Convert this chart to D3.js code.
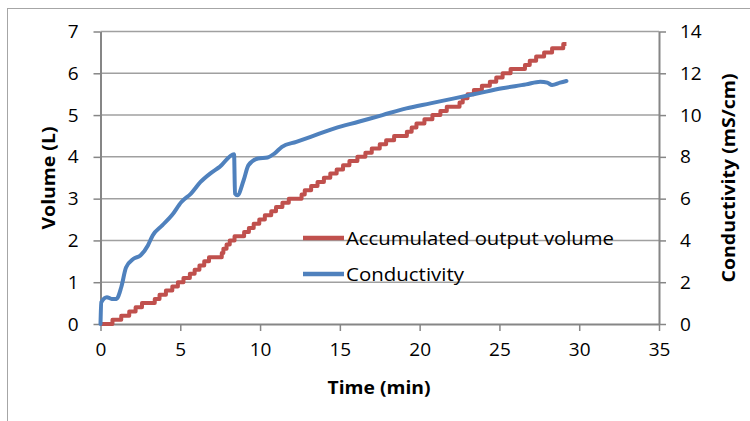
<!DOCTYPE html>
<html>
<head>
<meta charset="utf-8">
<script src="https://cdn.jsdelivr.net/npm/d3@7"></script>
<style>
  html, body { margin: 0; padding: 0; background: #fff; }
  svg { display: block; }
  text { font-family: "Open Sans", "Noto Sans", sans-serif; fill: #000; }
</style>
</head>
<body>
<svg id="chart" width="750" height="421"></svg>
<script>
// Accumulated output volume: time (min) at which each 0.1 L step is reached
const volumeTimes = [0, 0.75, 1.3, 1.8, 2.2, 2.6, 3.4, 3.7, 4.1, 4.5, 4.85,
  5.2, 5.6, 5.9, 6.2, 6.5, 6.8, 7.6, 7.7, 7.9, 8.1,
  8.4, 9.0, 9.3, 9.6, 9.95, 10.3, 10.7, 11.0, 11.4, 11.8,
  12.6, 12.8, 13.2, 13.6, 14.0, 14.4, 14.8, 15.2, 15.6, 16.1,
  16.6, 17.0, 17.5, 17.9, 18.4, 19.2, 19.5, 19.8, 20.3, 20.8,
  21.3, 21.7, 22.5, 22.7, 23.0, 23.4, 23.9, 24.4, 24.8, 25.2,
  25.7, 26.6, 26.9, 27.3, 27.8, 28.3, 29.0, 29.2];
const volumeValues = [0, 0.1, 0.2, 0.3, 0.4, 0.5, 0.6, 0.7, 0.8, 0.9, 1.0,
  1.1, 1.2, 1.3, 1.4, 1.5, 1.6, 1.7, 1.8, 1.9, 2.0,
  2.1, 2.2, 2.3, 2.4, 2.5, 2.6, 2.7, 2.8, 2.9, 3.0,
  3.1, 3.2, 3.3, 3.4, 3.5, 3.6, 3.7, 3.8, 3.9, 4.0,
  4.1, 4.2, 4.3, 4.4, 4.5, 4.6, 4.7, 4.8, 4.9, 5.0,
  5.1, 5.2, 5.3, 5.4, 5.5, 5.6, 5.7, 5.8, 5.9, 6.0,
  6.1, 6.2, 6.3, 6.4, 6.5, 6.6, 6.7, 6.7];

// Conductivity (mS/cm) over time (min)
const condTimes = [0, 0.05, 0.4, 0.7, 1.0, 1.3, 1.6, 2.07, 2.5, 2.97, 3.27,
  3.87, 4.47, 5.07, 5.67, 6.27, 6.87, 7.47, 8.37, 8.43, 8.58,
  8.97, 9.27, 9.87, 10.47, 10.9, 11.37, 12.27, 13.17, 14.67, 16.17,
  17.67, 19.17, 20.67, 22.17, 23.67, 25.17, 26.67, 27.56, 28.0, 28.3,
  28.8, 29.2];
const condValues = [0, 1.04, 1.28, 1.2, 1.2, 1.76, 2.7, 3.12, 3.28, 3.76, 4.24,
  4.72, 5.2, 5.84, 6.24, 6.8, 7.2, 7.52, 8.13, 6.24, 6.16,
  6.88, 7.6, 7.92, 7.97, 8.16, 8.48, 8.72, 8.96, 9.36, 9.68,
  10.0, 10.32, 10.56, 10.8, 11.04, 11.28, 11.47, 11.6, 11.55, 11.44,
  11.55, 11.63];

const timeTicks = [0, 5, 10, 15, 20, 25, 30, 35];
const volumeTicks = [0, 1, 2, 3, 4, 5, 6, 7];
const condTicks = [0, 2, 4, 6, 8, 10, 12, 14];

const seriesNames = ["Accumulated output volume", "Conductivity"];
const seriesColors = ["#C0504D", "#4F81BD"];

const svg = d3.select("#chart");
const x = d3.scaleLinear().domain([0, 35]).range([100.5, 659]);
const yL = d3.scaleLinear().domain([0, 7]).range([324, 31.5]);
const yR = d3.scaleLinear().domain([0, 14]).range([324, 31.5]);
const intFmt = d3.format("d");

// outer chart border
svg.append("rect")
  .attr("x", 7.5).attr("y", 8.5).attr("width", 760).attr("height", 430)
  .attr("fill", "none").attr("stroke", "#a6a6a6").attr("stroke-width", 1);

// horizontal gridlines
svg.append("g").selectAll("line").data(volumeTicks.slice(1)).join("line")
  .attr("x1", x(0)).attr("x2", x(35))
  .attr("y1", d => yL(d)).attr("y2", d => yL(d))
  .attr("stroke", "#a0a0a0").attr("stroke-width", 1.5);

function styleAxis(g) {
  g.select(".domain").attr("stroke", "#868686").attr("stroke-width", 2);
  g.selectAll(".tick line").attr("stroke", "#868686").attr("stroke-width", 1.5);
  g.selectAll(".tick text").attr("font-size", 19).attr("fill", "#000")
    .attr("font-family", "'Open Sans', sans-serif");
}

svg.append("g").attr("transform", `translate(${x(0)},0)`)
  .call(d3.axisLeft(yL).tickValues(volumeTicks).tickFormat(intFmt)
    .tickSize(7).tickPadding(15).tickSizeOuter(0))
  .call(styleAxis);

svg.append("g").attr("transform", `translate(${x(35)},0)`)
  .call(d3.axisRight(yR).tickValues(condTicks).tickFormat(intFmt)
    .tickSize(7).tickPadding(14).tickSizeOuter(0))
  .call(styleAxis);

svg.append("g").attr("transform", `translate(0,${yL(0)})`)
  .call(d3.axisBottom(x).tickValues(timeTicks).tickFormat(intFmt)
    .tickSize(7).tickPadding(12).tickSizeOuter(0))
  .call(styleAxis);

// series lines
const volumeData = volumeTimes.map((t, i) => [t, volumeValues[i]]);
const condData = condTimes.map((t, i) => [t, condValues[i]]);

svg.append("path").datum(volumeData)
  .attr("fill", "none").attr("stroke", seriesColors[0]).attr("stroke-width", 4)
  .attr("stroke-linejoin", "round")
  .attr("d", d3.line().x(d => x(d[0])).y(d => yL(d[1])).curve(d3.curveStepAfter));

svg.append("path").datum(condData)
  .attr("fill", "none").attr("stroke", seriesColors[1]).attr("stroke-width", 4)
  .attr("stroke-linejoin", "round").attr("stroke-linecap", "round")
  .attr("d", d3.line().x(d => x(d[0])).y(d => yR(d[1])).curve(d3.curveMonotoneX));

// legend
const legend = svg.append("g");
const legendY = [238, 274];
const legendW = [268, 118];
seriesNames.forEach((name, i) => {
  legend.append("line")
    .attr("x1", 303).attr("x2", 344).attr("y1", legendY[i]).attr("y2", legendY[i])
    .attr("stroke", seriesColors[i]).attr("stroke-width", 4.5);
  legend.append("text")
    .attr("x", 346).attr("y", legendY[i] + 7)
    .attr("font-size", 19)
    .attr("textLength", legendW[i]).attr("lengthAdjust", "spacingAndGlyphs")
    .text(name);
});

// axis titles
svg.append("text")
  .attr("transform", `translate(55,178) rotate(-90)`)
  .attr("text-anchor", "middle").attr("font-size", 18).attr("font-weight", "bold")
  .attr("textLength", 103).attr("lengthAdjust", "spacingAndGlyphs")
  .text("Volume (L)");

svg.append("text")
  .attr("transform", `translate(735,178) rotate(-90)`)
  .attr("text-anchor", "middle").attr("font-size", 18).attr("font-weight", "bold")
  .attr("textLength", 209).attr("lengthAdjust", "spacingAndGlyphs")
  .text("Conductivity (mS/cm)");

svg.append("text")
  .attr("x", 379).attr("y", 394)
  .attr("text-anchor", "middle").attr("font-size", 18).attr("font-weight", "bold")
  .attr("textLength", 103).attr("lengthAdjust", "spacingAndGlyphs")
  .text("Time (min)");
</script>
</body>
</html>
